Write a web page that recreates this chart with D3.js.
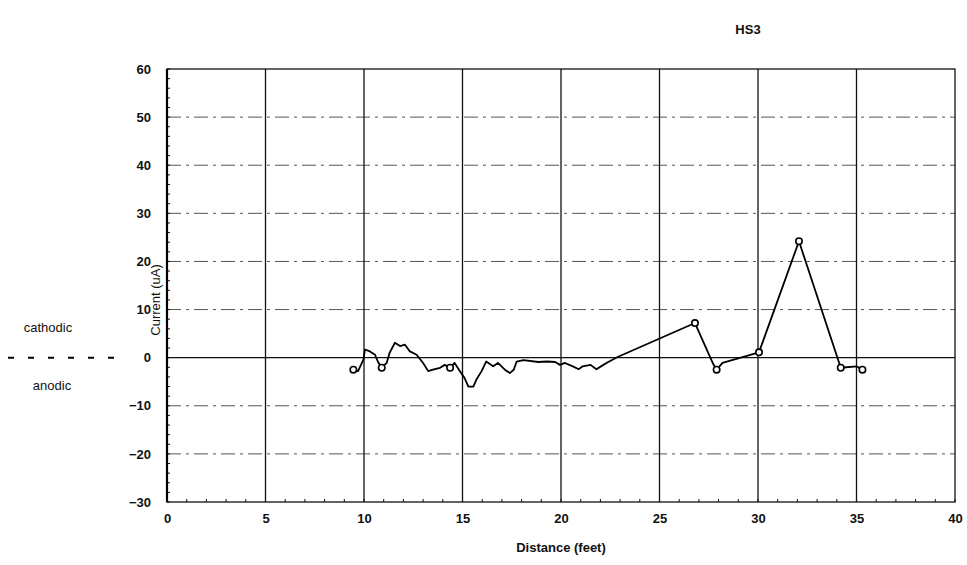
<!DOCTYPE html>
<html><head><meta charset="utf-8">
<script src="https://cdn.jsdelivr.net/npm/d3@7"></script>
<style>
html,body{margin:0;padding:0;background:#fff;}
text{font-family:"Liberation Sans",Arial,sans-serif;fill:#111;}
</style></head>
<body><svg id="c" width="967" height="565"></svg>
<script>
const title = "HS3";
const xLabel = "Distance (feet)";
const yLabel = "Current (uA)";
const xTicks = [0,5,10,15,20,25,30,35,40];
const yTicks = [60,50,40,30,20,10,0,-10,-20,-30];
const distance = [9.46,9.7,9.97,10.05,10.3,10.56,10.7,10.9,11.15,11.3,11.57,11.83,12.08,12.33,12.67,13.0,13.26,13.5,13.86,14.1,14.37,14.6,14.87,15.1,15.3,15.55,15.7,15.97,16.2,16.56,16.8,17.15,17.4,17.6,17.75,18.1,18.85,19.3,19.7,19.95,20.2,20.6,20.9,21.1,21.5,21.8,22.15,22.4,22.9,26.8,27.7,27.9,28.2,30.05,32.08,34.2,35.0,35.3];
const current  = [-2.5,-2.8,-0.4,1.7,1.3,0.6,-0.8,-2.1,-1.1,1.0,3.1,2.4,2.7,1.3,0.6,-1.1,-2.8,-2.5,-2.1,-1.5,-2.1,-1.1,-2.8,-4.2,-6.0,-6.0,-4.6,-2.8,-0.8,-1.8,-1.1,-2.5,-3.2,-2.5,-0.8,-0.5,-0.9,-0.8,-0.9,-1.5,-1.1,-1.8,-2.4,-1.8,-1.5,-2.4,-1.5,-0.9,0.2,7.2,-1.1,-2.5,-1.1,1.1,24.2,-2.1,-1.8,-2.5];
const markedDistance = [9.46,10.9,14.37,26.8,27.9,30.05,32.08,34.2,35.3];
const sideLabels = ["cathodic","anodic"];

const svg = d3.select("#c");
const L=167,R=955,T=69,B=502;
const x = d3.scaleLinear().domain([0,40]).range([L,R]);
const y = d3.scaleLinear().domain([-30,60]).range([B,T]);

// horizontal grid (dash-dot)
svg.append("g").selectAll("line").data(yTicks.filter(v=>v!==60&&v!==-30&&v!==0)).join("line")
  .attr("x1",L).attr("x2",R).attr("y1",d=>y(d)).attr("y2",d=>y(d))
  .attr("stroke","#555").attr("stroke-width",1).attr("stroke-dasharray","14,5,3,5");
// vertical grid
svg.append("g").selectAll("line").data(xTicks.filter(v=>v>0&&v<40)).join("line")
  .attr("x1",d=>x(d)).attr("x2",d=>x(d)).attr("y1",T).attr("y2",B)
  .attr("stroke","#111").attr("stroke-width",1.3);
// zero line
svg.append("line").attr("x1",L).attr("x2",R).attr("y1",y(0)).attr("y2",y(0))
  .attr("stroke","#111").attr("stroke-width",1.3);
// frame
svg.append("rect").attr("x",L).attr("y",T).attr("width",R-L).attr("height",B-T)
  .attr("fill","none").attr("stroke","#111").attr("stroke-width",1.3);
svg.append("line").attr("x1",L).attr("x2",L).attr("y1",T).attr("y2",B).attr("stroke","#000").attr("stroke-width",2.2);

// axes
const yAxis = d3.axisLeft(y).tickValues(yTicks).tickSize(0).tickPadding(16).tickFormat(d3.format("d"));
const gy = svg.append("g").attr("transform",`translate(${L},0)`).call(yAxis);
gy.select(".domain").remove();
gy.selectAll("text").attr("font-size",13).attr("font-weight","bold");
const xAxis = d3.axisBottom(x).tickValues(xTicks).tickSize(0).tickPadding(12).tickFormat(d3.format("d"));
const gx = svg.append("g").attr("transform",`translate(0,${B})`).call(xAxis);
gx.select(".domain").remove();
gx.selectAll("text").attr("font-size",13).attr("font-weight","bold");
// minor ticks
svg.append("g").selectAll("line").data(d3.range(-30,61,2)).join("line")
  .attr("x1",L).attr("x2",L+3).attr("y1",d=>y(d)).attr("y2",d=>y(d)).attr("stroke","#111");
svg.append("g").selectAll("line").data(d3.range(0,41,1)).join("line")
  .attr("x1",d=>x(d)).attr("x2",d=>x(d)).attr("y1",B).attr("y2",B-3).attr("stroke","#111");

// data line
const pts = distance.map((d,i)=>[d,current[i]]);
svg.append("path").datum(pts)
  .attr("d",d3.line().x(d=>x(d[0])).y(d=>y(d[1])))
  .attr("fill","none").attr("stroke","#000").attr("stroke-width",1.8).attr("stroke-linejoin","round");
svg.append("g").selectAll("circle").data(pts.filter(p=>markedDistance.includes(p[0]))).join("circle")
  .attr("cx",d=>x(d[0])).attr("cy",d=>y(d[1])).attr("r",3.2)
  .attr("fill","#fff").attr("stroke","#000").attr("stroke-width",1.6);

// titles
svg.append("text").attr("x",748).attr("y",34).attr("text-anchor","middle").attr("font-size",13).attr("font-weight","bold").text(title);
svg.append("text").attr("x",(L+R)/2).attr("y",552).attr("text-anchor","middle").attr("font-size",13).attr("font-weight","bold").text(xLabel);
svg.append("text").attr("transform",`translate(160,${y(12)}) rotate(-90)`).attr("text-anchor","middle").attr("font-size",13).text(yLabel);

// side annotations
svg.append("text").attr("x",48).attr("y",y(6)).attr("text-anchor","middle").attr("dominant-baseline","middle").attr("font-size",13).text(sideLabels[0]);
svg.append("text").attr("x",52).attr("y",y(-6)).attr("text-anchor","middle").attr("dominant-baseline","middle").attr("font-size",13).text(sideLabels[1]);
svg.append("line").attr("x1",8).attr("x2",122).attr("y1",y(0)).attr("y2",y(0))
  .attr("stroke","#000").attr("stroke-width",2).attr("stroke-dasharray","6,14");
</script></body></html>
